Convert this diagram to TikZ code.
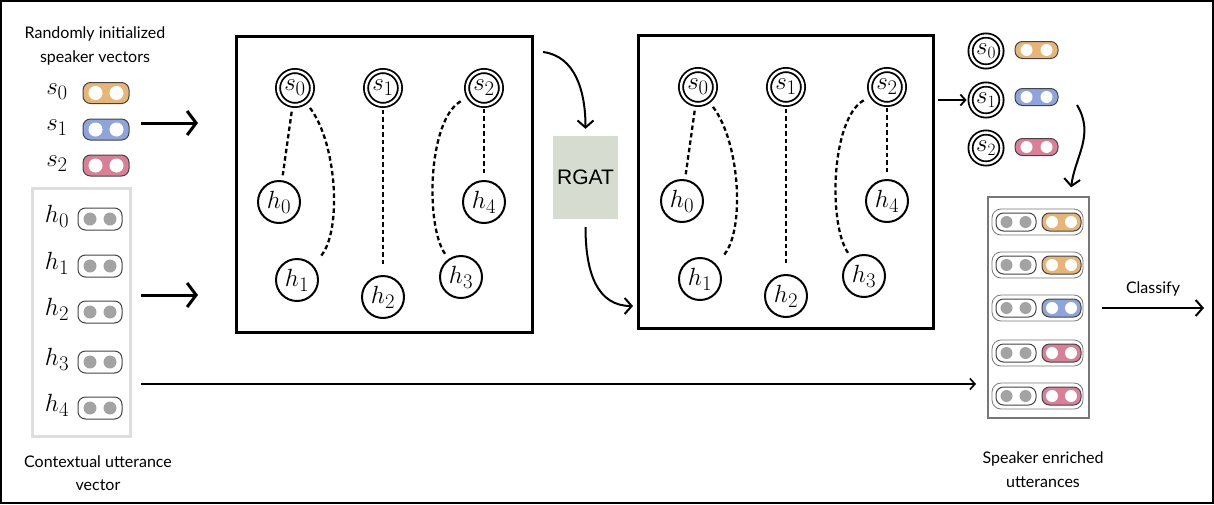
\documentclass[tikz,border=0pt]{standalone}
\usepackage{fontspec}
\setmainfont{Lato}
\newfontfamily\rgatfont{Liberation Sans}
\usetikzlibrary{arrows.meta}
\definecolor{cOr}{HTML}{E6B57A}
\definecolor{cBl}{HTML}{8FA4DA}
\definecolor{cPk}{HTML}{D88098}
\definecolor{cRg}{HTML}{D6DCCF}
\definecolor{cDot}{HTML}{A3A3A3}
\definecolor{cLbox}{HTML}{DEDEDE}
\definecolor{cEbox}{HTML}{777777}
\definecolor{cPillEdge}{HTML}{444444}
% name, position, fill, dot colour, width, height, dot radius, dot offset
\newcommand\pillat[8]{%
  \node[pillbox, fill=#3, minimum width=#5, minimum height=#6] (#1) at (#2) {};
  \fill[#4] ([xshift=-#8 pt]#1.center) circle (#7);
  \fill[#4] ([xshift=#8 pt]#1.center) circle (#7);}
\tikzset{
  pillbox/.style={draw=cPillEdge, line width=1pt, rounded corners=7.5pt, inner sep=0pt},
  lbl/.style={font=\fontsize{16}{18}\selectfont, inner sep=0pt},
  bigm/.style={font=\fontsize{30}{32}\selectfont, inner sep=0pt},
  snode/.style={circle, draw, line width=1.8pt, double, double distance=2.4pt, minimum size=34pt, inner sep=0pt, font=\fontsize{28}{30}\selectfont},
  ssmall/.style={snode, minimum size=31pt, font=\fontsize{24}{26}\selectfont},
  hnode/.style={circle, draw, line width=2pt, minimum size=42pt, inner sep=0pt, font=\fontsize{29}{31}\selectfont},
  gbox/.style={draw, line width=3pt, inner sep=0pt},
  dsh/.style={line width=2.3pt, dash pattern=on 4.5pt off 3pt},
  bigarrow/.style={line width=3pt, -{Straight Barb[length=9pt,width=24pt]}},
  midarrow/.style={line width=2pt, -{Straight Barb[length=7pt,width=16pt]}},
  thinarrow/.style={line width=1.6pt, -{Straight Barb[length=5pt,width=11pt]}},
}
\begin{document}
\begin{tikzpicture}[x=1pt,y=-1pt]
\useasboundingbox (0,0) rectangle (1214,504);
\draw[line width=2pt] (1,1) rectangle (1213,503);

% ---------- left column ----------
\node[lbl] (t1) at (95,34) {Randomly initialized};
\node[lbl] (t2) at (95,58) {speaker vectors};
\node[bigm] (ls0) at (57,92) {$s_0$};
\node[bigm] (ls1) at (57,128) {$s_1$};
\node[bigm] (ls2) at (57,164) {$s_2$};
\pillat{lp0}{106,93}{cOr}{white}{46}{21}{7}{10.5}
\pillat{lp1}{106,129.5}{cBl}{white}{46}{21}{7}{10.5}
\pillat{lp2}{106,165.5}{cPk}{white}{46}{21}{7}{10.5}

\node[draw=cLbox, line width=3pt, minimum width=98, minimum height=248, inner sep=0pt] (hbox) at (81.5,312.5) {};
\node[bigm] (lh0) at (57,216) {$h_0$};
\node[bigm] (lh1) at (57,263) {$h_1$};
\node[bigm] (lh2) at (57,309) {$h_2$};
\node[bigm] (lh3) at (57,359) {$h_3$};
\node[bigm] (lh4) at (57,405) {$h_4$};
\pillat{lq0}{100,219}{white}{cDot}{44}{22}{6.5}{10}
\pillat{lq1}{100,266}{white}{cDot}{44}{22}{6.5}{10}
\pillat{lq2}{100,312}{white}{cDot}{44}{22}{6.5}{10}
\pillat{lq3}{100,362}{white}{cDot}{44}{22}{6.5}{10}
\pillat{lq4}{100,408}{white}{cDot}{44}{22}{6.5}{10}
\node[lbl] (t3) at (98,462) {Contextual utterance};
\node[lbl] (t4) at (98,485) {vector};

\coordinate (a1s) at (141,123);
\coordinate (a1e) at (198,123);
\coordinate (a2s) at (141,295);
\coordinate (a2e) at (198,295);
\coordinate (a3s) at (141,384);
\coordinate (a3e) at (976,384);
\draw[bigarrow] (a1s) -- (a1e);
\draw[bigarrow] (a2s) -- (a2e);
\draw[thinarrow] (a3s) -- (a3e);

% ---------- graph box 1 ----------
\node[gbox, minimum width=296, minimum height=296] (box1) at (384,184) {};
\node[snode] (As0) at (295,88) {$s_0$};
\node[snode] (As1) at (383,88) {$s_1$};
\node[snode] (As2) at (484,88) {$s_2$};
\node[hnode] (Ah0) at (279,202) {$h_0$};
\node[hnode] (Ah1) at (297,280) {$h_1$};
\node[hnode] (Ah2) at (383,297) {$h_2$};
\node[hnode] (Ah3) at (461,277) {$h_3$};
\node[hnode] (Ah4) at (484,202) {$h_4$};
\draw[dsh, shorten <=6pt, shorten >=5pt] (As0) -- (Ah0);
\draw[dsh, shorten <=7pt, shorten >=10pt] (As0) .. controls +(43,57) and +(45,-45) .. (Ah1);
\draw[dsh, shorten <=4pt, shorten >=9pt] (As1) -- (Ah2);
\draw[dsh, shorten <=9pt, shorten >=6pt] (As2) .. controls +(-56,32) and +(-36,-52) .. (Ah3);
\draw[dsh, shorten <=3pt, shorten >=5pt] (As2) -- (Ah4);

% ---------- RGAT ----------
\node[fill=cRg, minimum width=65, minimum height=83, inner sep=0pt, font=\rgatfont\fontsize{21}{23}\selectfont] (rg) at (585.5,177.5) {RGAT};
\coordinate (b1out) at (543,52);
\coordinate (b2in) at (638,306);
\draw[midarrow, shorten >=7pt] (b1out) .. controls +(32,4) and +(0,-45) .. (rg.north);
\draw[midarrow, shorten <=8pt, shorten >=5pt] (rg.south) .. controls +(0,55) and +(-40,0) .. (b2in);

% ---------- graph box 2 ----------
\node[gbox, minimum width=295, minimum height=293] (box2) at (785.5,181.5) {};
\node[snode] (Bs0) at (698,87) {$s_0$};
\node[snode] (Bs1) at (786,87) {$s_1$};
\node[snode] (Bs2) at (887,87) {$s_2$};
\node[hnode] (Bh0) at (682,201) {$h_0$};
\node[hnode] (Bh1) at (700,279) {$h_1$};
\node[hnode] (Bh2) at (786,296) {$h_2$};
\node[hnode] (Bh3) at (864,276) {$h_3$};
\node[hnode] (Bh4) at (887,201) {$h_4$};
\draw[dsh, shorten <=6pt, shorten >=5pt] (Bs0) -- (Bh0);
\draw[dsh, shorten <=7pt, shorten >=10pt] (Bs0) .. controls +(43,57) and +(45,-45) .. (Bh1);
\draw[dsh, shorten <=4pt, shorten >=9pt] (Bs1) -- (Bh2);
\draw[dsh, shorten <=9pt, shorten >=6pt] (Bs2) .. controls +(-56,32) and +(-36,-52) .. (Bh3);
\draw[dsh, shorten <=3pt, shorten >=5pt] (Bs2) -- (Bh4);

% ---------- right column ----------
\node[ssmall] (Cs0) at (986,51) {$s_0$};
\node[ssmall] (Cs1) at (986,100) {$s_1$};
\node[ssmall] (Cs2) at (986,148) {$s_2$};
\pillat{rp0}{1036.5,50}{cOr}{white}{43}{17}{6}{10}
\pillat{rp1}{1036.5,97}{cBl}{white}{43}{17}{6}{10}
\pillat{rp2}{1036.5,147}{cPk}{white}{43}{17}{6}{10}
\coordinate (b2out) at (938,100);
\draw[thinarrow, line width=1.8pt, shorten >=3pt] (b2out) -- (Cs1.west);

\node[draw=cEbox, line width=1.5pt, minimum width=101, minimum height=221, inner sep=0pt] (ebox) at (1038.5,307.5) {};
\coordinate (cv1) at (1077,105);
\draw[midarrow, shorten >=9pt] (cv1) .. controls +(18,30) and +(5,-40) .. (ebox.north -| 1070,0);

\foreach \i/\y/\c in {1/222/cOr, 2/265/cOr, 3/308/cBl, 4/353/cPk, 5/396/cPk}{
  \node[draw=cEbox, line width=0.8pt, rounded corners=9pt, minimum width=91, minimum height=26, inner sep=0pt] (row\i) at (1037.5,\y) {};
  \pillat{eg\i}{1016,\y}{white}{cDot}{40}{18}{6}{9.5}
  \pillat{ec\i}{1061.5,\y}{\c}{white}{39}{18}{6}{9.5}
}
\coordinate (clsS) at (1102,308);
\coordinate (clsE) at (1204,308);
\draw[midarrow] (clsS) -- node[lbl, above=11pt] (clsL) {Classify} (clsE);
\node[lbl] (t5) at (1043,459) {Speaker enriched};
\node[lbl] (t6) at (1043,482) {utterances};
\end{tikzpicture}
\end{document}
